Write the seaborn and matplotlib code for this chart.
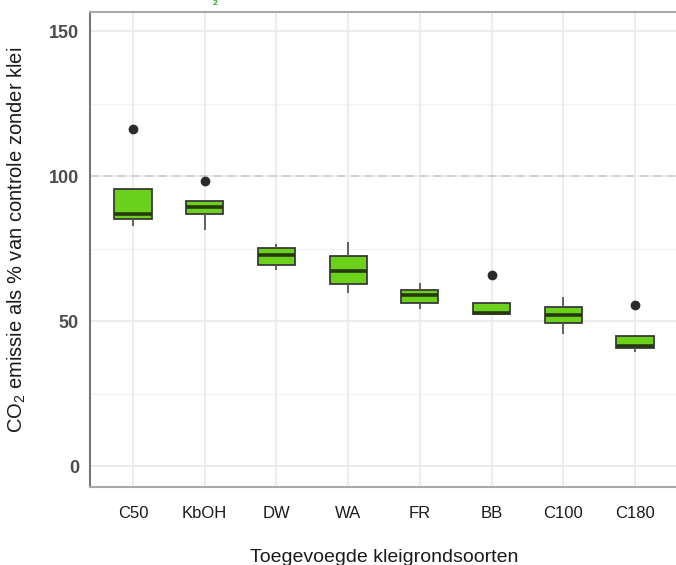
import numpy as np
import pandas as pd
import matplotlib
matplotlib.use("Agg")
import matplotlib.pyplot as plt
import seaborn as sns

categories = ["C50", "KbOH", "DW", "WA", "FR", "BB", "C100", "C180"]
c50 = [82.8, 85.1, 87.0, 95.4, 116.3]
kboh = [81.4, 87.1, 89.2, 91.5, 98.4]
dw = [67.6, 69.5, 72.8, 75.3, 76.6]
wa = [59.8, 62.8, 67.3, 72.4, 77.4]
fr = [54.1, 56.4, 59.0, 60.7, 63.2]
bb = [52.3, 52.4, 52.9, 56.1, 66.0]
c100 = [45.7, 49.4, 52.1, 54.7, 58.4]
c180 = [39.4, 40.6, 41.4, 44.9, 55.6]
yticks = [0, 50, 100, 150]
ref_value = 100

series = [c50, kboh, dw, wa, fr, bb, c100, c180]
df = pd.DataFrame({
    "soort": [c for c, vals in zip(categories, series) for _ in vals],
    "waarde": [v for vals in series for v in vals],
})

sns.set_theme(style="white")
plt.rcParams["font.family"] = ["Liberation Sans", "DejaVu Sans"]

fig = plt.figure(figsize=(6.76, 5.65), dpi=100)
ax = fig.add_axes([90 / 676, 1 - 487 / 565, (678 - 90) / 676, (487 - 12) / 565])

# grid
for v in [25, 75, 125]:
    ax.axhline(v, color="#f3f3f3", lw=1.0, zorder=0)
for v in yticks:
    ax.axhline(v, color="#ebebeb", lw=1.3, zorder=0)
for i in range(len(categories)):
    ax.axvline(i, color="#ebebeb", lw=1.3, zorder=0)
ax.axhline(ref_value, color="#c8c8c8", lw=1.1, ls=(0, (5, 4)), zorder=1)

sns.boxplot(
    data=df, x="soort", y="waarde", order=categories, ax=ax,
    color="#6cd11b", saturation=1, width=0.52, whis=1.5,
    linewidth=1.3, linecolor="#3a3a3a", showcaps=False,
    whiskerprops=dict(color="#555555", linewidth=1.3),
    medianprops=dict(color="#263a12", linewidth=2.6),
    flierprops=dict(marker="o", markersize=6, markerfacecolor="#2b2b2b",
                    markeredgecolor="#2b2b2b"),
    zorder=3,
)

ax.set_xlim(-0.6, 7.6)
ax.set_ylim(-7.2, 156.6)
ax.set_yticks(yticks)
ax.set_yticklabels([str(t) for t in yticks], fontsize=13, fontweight="bold", color="#4d4d4d")
ax.set_xticks(range(len(categories)))
ax.set_xticklabels(categories, fontsize=12, color="#1a1a1a")
ax.tick_params(axis="both", length=4, width=1, color="#555555", direction="out", pad=4)
ax.tick_params(axis="x", length=4, pad=10)

for s in ["left", "bottom", "top"]:
    ax.spines[s].set_visible(True)
    ax.spines[s].set_color("#a8a8a8")
    ax.spines[s].set_linewidth(1.5)
ax.spines["left"].set_color("#777777")
ax.spines["right"].set_visible(False)

ax.set_xlabel("Toegevoegde kleigrondsoorten", fontsize=14, color="#1a1a1a", labelpad=20)
ax.set_ylabel("CO$_\\mathregular{2}$ emissie als % van controle zonder klei",
              fontsize=14.5, color="#1a1a1a")
ax.yaxis.set_label_coords(-0.105, 0.52)

fig.text(215 / 676, 1.0, "2", color="#2e9e2e", fontsize=6, fontweight="bold",
         ha="center", va="top")

fig.savefig("out.png", dpi=100)
